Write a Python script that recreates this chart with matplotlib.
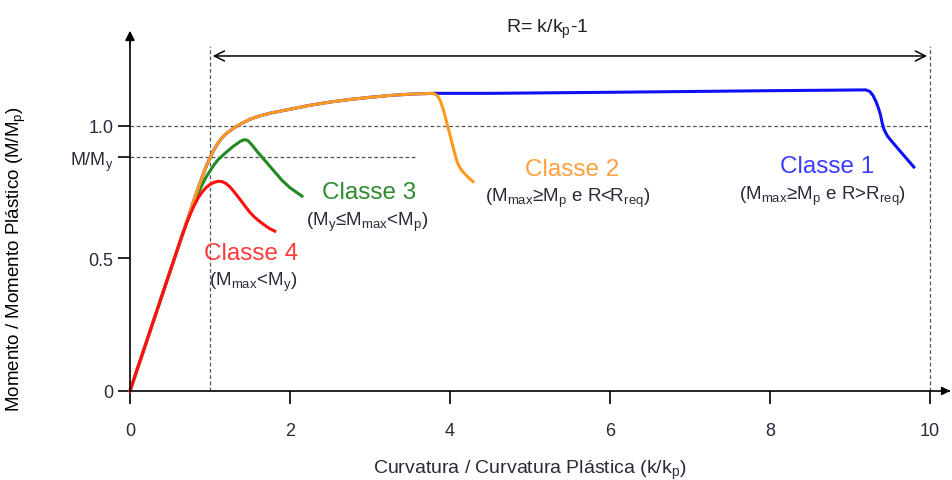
import matplotlib
matplotlib.use("Agg")
import matplotlib.pyplot as plt

plt.rcParams['font.family'] = ['Liberation Sans', 'DejaVu Sans']

# ---- data (k/kp, M/Mp) ----
common_x = [0.0, 0.1, 0.2, 0.3, 0.4, 0.5, 0.6, 0.65]
common_y = [0.0, 0.09, 0.18, 0.27, 0.36, 0.45, 0.54, 0.585]

env_x = [0.65, 0.7, 0.75, 0.8, 0.85, 0.9, 0.95, 1.0, 1.05, 1.1, 1.15, 1.2, 1.3, 1.4, 1.5, 1.6,
         1.75, 2.0, 2.25, 2.5, 2.75, 3.0, 3.25, 3.5, 3.79]
env_y = [0.585, 0.63, 0.675, 0.72, 0.763, 0.805, 0.845, 0.88, 0.91, 0.935, 0.955, 0.97, 0.993, 1.01, 1.025, 1.036,
         1.048, 1.063, 1.078, 1.09, 1.10, 1.108, 1.115, 1.12, 1.123]

c1_tail_x = [4.5, 6.0, 8.0, 9.2, 9.25, 9.29, 9.33, 9.36, 9.385, 9.405, 9.43, 9.47, 9.53, 9.6, 9.7, 9.8]
c1_tail_y = [1.123, 1.127, 1.133, 1.136, 1.13, 1.115, 1.09, 1.065, 1.04, 1.01, 0.985, 0.962, 0.94, 0.915, 0.88, 0.845]

c2_tail_x = [3.84, 3.88, 3.92, 3.95, 3.98, 4.01, 4.04, 4.07, 4.1, 4.14, 4.19, 4.24, 4.29]
c2_tail_y = [1.115, 1.095, 1.06, 1.025, 0.99, 0.955, 0.92, 0.885, 0.857, 0.835, 0.818, 0.803, 0.79]

c3_x = [0.65, 0.7, 0.75, 0.8, 0.85, 0.9, 0.95, 1.0, 1.05, 1.1, 1.2, 1.3, 1.38, 1.43, 1.47, 1.52, 1.6,
        1.7, 1.8, 1.9, 2.0, 2.08, 2.15]
c3_y = [0.585, 0.628, 0.67, 0.708, 0.744, 0.777, 0.806, 0.83, 0.853, 0.872, 0.90, 0.925, 0.942, 0.948, 0.946, 0.93, 0.90,
        0.865, 0.83, 0.795, 0.767, 0.75, 0.735]

c4_x = [0.65, 0.7, 0.75, 0.8, 0.85, 0.9, 0.95, 1.0, 1.05, 1.1, 1.15, 1.2, 1.25, 1.3, 1.35, 1.4, 1.45,
        1.5, 1.55, 1.6, 1.65, 1.7, 1.75, 1.81]
c4_y = [0.585, 0.626, 0.664, 0.698, 0.727, 0.75, 0.767, 0.779, 0.787, 0.791, 0.79, 0.783, 0.77, 0.752, 0.733, 0.713, 0.693,
        0.674, 0.658, 0.645, 0.633, 0.622, 0.612, 0.603]

My_level = 0.883
R_start, R_end = 1.0, 10.0

x_ticks = [0, 2, 4, 6, 8, 10]
y_ticks = [0, 0.5, My_level, 1.0]
y_ticklabels = ['0', '0.5', 'M/M$_\\mathregular{y}$', '1.0']

colors = {'c1': '#1010f5', 'c2': '#ff9a1f', 'c3': '#238a23', 'c4': '#ff1010'}
txt_colors = {'c1': '#3c3cff', 'c2': '#ffa040', 'c3': '#2e8b2e', 'c4': '#ff3c3c'}
dark = '#2a2a3a'

fig = plt.figure(figsize=(9.53, 4.81), dpi=100)
ax = fig.add_axes([0, 0, 1, 1])
ax.set_xlim(-1.625, 10.29)
ax.set_ylim(-0.336, 1.479)

for s in ['top', 'right']:
    ax.spines[s].set_visible(False)
ax.spines['left'].set_position(('data', 0))
ax.spines['bottom'].set_position(('data', 0))
ax.spines['left'].set_bounds(0, 1.34)
ax.spines['bottom'].set_bounds(0, 10.24)
ax.spines['left'].set_linewidth(1.2)
ax.spines['bottom'].set_linewidth(1.2)

ax.set_xticks(x_ticks)
ax.set_xticklabels([str(t) for t in x_ticks])
ax.set_yticks(y_ticks)
ax.set_yticklabels(y_ticklabels)
ax.tick_params(axis='both', direction='out', length=9, width=1.2, labelsize=13,
               labelcolor=dark)
ax.tick_params(axis='x', pad=13)
ax.tick_params(axis='y', pad=3)

# axis arrowheads
ax.annotate('', xy=(0, 1.37), xytext=(0, 1.30),
            arrowprops=dict(arrowstyle='-|>', color='black', lw=1.2, mutation_scale=14))
ax.annotate('', xy=(10.29, 0), xytext=(10.2, 0),
            arrowprops=dict(arrowstyle='-|>', color='black', lw=1.2, mutation_scale=12))

# reference dashed lines
dash = dict(color='#555555', lw=0.9, ls=(0, (3, 2)))
ax.plot([0, 10], [1.0, 1.0], **dash)
ax.plot([0, 3.56], [My_level, My_level], **dash)
ax.plot([R_start, R_start], [0, 1.30], **dash)
ax.plot([R_end, R_end], [0, 1.30], **dash)

# R arrow
ax.annotate('', xy=(R_start, 1.264), xytext=(R_end, 1.264),
            arrowprops=dict(arrowstyle='<->', color='black', lw=1.1, mutation_scale=18))
ax.text(5.22, 1.37, 'R= k/k$_\\mathregular{p}$-1', ha='center', va='center', fontsize=14, color='#222222')

# curves
lw = 2.2
c1_x = common_x + env_x[1:] + c1_tail_x
c1_y = common_y + env_y[1:] + c1_tail_y
c2_x = common_x + env_x[1:] + c2_tail_x
c2_y = common_y + env_y[1:] + c2_tail_y
ax.plot(c1_x, c1_y, color=colors['c1'], lw=lw, solid_joinstyle='round')
ax.plot(common_x + c3_x[1:], common_y + c3_y[1:], color=colors['c3'], lw=lw, solid_joinstyle='round')
ax.plot(c2_x, c2_y, color=colors['c2'], lw=lw, solid_joinstyle='round')
ax.plot(common_x + c4_x[1:], common_y + c4_y[1:], color=colors['c4'], lw=lw, solid_joinstyle='round')

# labels
big = 17.5
small = 13.5
ax.text(8.71, 0.849, 'Classe 1', color=txt_colors['c1'], fontsize=big, ha='center', va='center')
ax.text(8.66, 0.74, '(M$_\\mathregular{max}$≥M$_\\mathregular{p}$ e R>R$_\\mathregular{req}$)',
        color=dark, fontsize=small, ha='center', va='center')
ax.text(5.525, 0.838, 'Classe 2', color=txt_colors['c2'], fontsize=big, ha='center', va='center')
ax.text(5.475, 0.732, '(M$_\\mathregular{max}$≥M$_\\mathregular{p}$ e R<R$_\\mathregular{req}$)',
        color=dark, fontsize=small, ha='center', va='center')
ax.text(2.99, 0.751, 'Classe 3', color=txt_colors['c3'], fontsize=big, ha='center', va='center')
ax.text(2.96, 0.64, '(M$_\\mathregular{y}$≤M$_\\mathregular{max}$<M$_\\mathregular{p}$)',
        color=dark, fontsize=small, ha='center', va='center')
ax.text(1.51, 0.52, 'Classe 4', color=txt_colors['c4'], fontsize=big, ha='center', va='center')
ax.text(1.54, 0.415, '(M$_\\mathregular{max}$<M$_\\mathregular{y}$)',
        color=dark, fontsize=small, ha='center', va='center')

ax.text(5.0, -0.294, 'Curvatura / Curvatura Plástica (k/k$_\\mathregular{p}$)', ha='center', va='center',
        fontsize=14, color=dark)
ax.text(-1.42, 0.5, 'Momento / Momento Plástico (M/M$_\\mathregular{p}$)', ha='center', va='center',
        rotation=90, fontsize=13.5, color='black')

fig.savefig('out.png', dpi=100)
